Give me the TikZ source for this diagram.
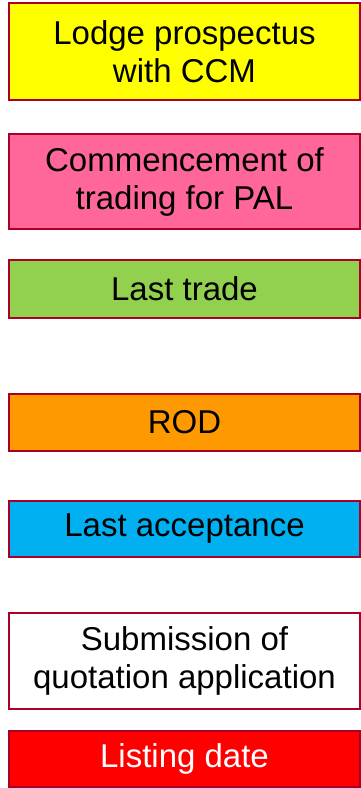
\documentclass[tikz,border=0pt]{standalone}
\usepackage{fontspec}
\setmainfont{Liberation Sans}
\definecolor{bordc}{RGB}{170,0,40}
\definecolor{yel}{RGB}{255,255,0}
\definecolor{pnk}{RGB}{255,102,153}
\definecolor{grn}{RGB}{146,208,80}
\definecolor{org}{RGB}{255,153,0}
\definecolor{blu}{RGB}{0,176,240}
\definecolor{rd}{RGB}{255,0,0}
\begin{document}
\begin{tikzpicture}[x=1pt,y=-1pt,
  box/.style={draw=bordc, line width=2pt, rectangle, minimum width=351pt, inner sep=0pt,
    align=center, font=\fontsize{33}{38}\selectfont}]
\useasboundingbox (0,0) rectangle (361,788);
\node[box, fill=yel, minimum height=97pt] (a) at (184.5,51.5) {Lodge prospectus\\with CCM};
\node[box, fill=pnk, minimum height=95pt] (b) at (184.5,181.5) {Commencement of\\trading for PAL};
\node[box, fill=grn, minimum height=58pt] (c) at (184.5,289) {Last trade};
\node[box, fill=org, minimum height=57pt] (d) at (184.5,422.5) {ROD};
\node[box, fill=blu, minimum height=56pt] (e) at (184.5,529) {Last acceptance};
\node[box, fill=white, minimum height=96pt] (f) at (184.5,661) {Submission of\\quotation application};
\node[box, fill=rd, text=white, minimum height=56pt] (g) at (184.5,759) {Listing date};
\end{tikzpicture}
\end{document}
